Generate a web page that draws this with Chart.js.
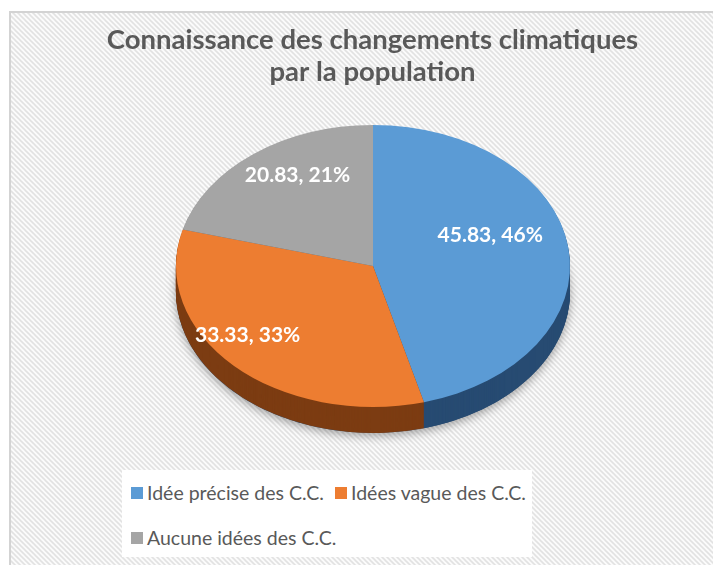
<!DOCTYPE html>
<html>
<head>
<meta charset="utf-8">
<script src="https://cdn.jsdelivr.net/npm/chart.js@4/dist/chart.umd.min.js"></script>
<style>
html, body { margin: 0; padding: 0; background: #fff; }
#wrap { position: relative; width: 713px; height: 565px; }
#legend { position: absolute; left: 122px; top: 470px; width: 410px; height: 87px; background: #fff;
  font-family: Lato, sans-serif; font-size: 19.5px; color: #595959; }
.item { position: absolute; white-space: nowrap; line-height: 22px; height: 22px; }
.sw { position: absolute; left: 0; top: 5px; width: 12px; height: 12px; }
.txt { position: absolute; left: 16px; top: 0; }
</style>
</head>
<body>
<div id="wrap">
  <canvas id="pie" width="713" height="565"></canvas>
  <div id="legend"></div>
</div>
<script>
// --- data ---
const labels = ['Idée précise des C.C.', 'Idées vague des C.C.', 'Aucune idées des C.C.'];
const values = [45.83, 33.33, 20.83];
const titleLines = ['Connaissance des changements climatiques', 'par la population'];

// --- look ---
const topColors = ['#5B9BD5', '#ED7D31', '#A5A5A5'];
const sideColors = ['#274b72', '#7c3c12', '#5f5f5f'];
const labelRadius = [0.6, 0.9, 0.63];   // where each value label sits along the slice
const PIE = { cx: 373, cy: 266, rx: 197, ry: 141, depth: 26, lift: -20 };
const legendSpots = [[9, 12], [213, 12], [9, 57]];

function hatchPattern(ctx) {
    const tile = document.createElement('canvas');
    tile.width = 5; tile.height = 5;
    const t = tile.getContext('2d');
    t.fillStyle = '#fbfbfb';
    t.fillRect(0, 0, 5, 5);
    t.strokeStyle = '#e2e2e2';
    t.lineWidth = 1.6;
    for (let k = -5; k <= 5; k += 5) {
        t.beginPath();
        t.moveTo(-1, -1 + k);
        t.lineTo(6, 6 + k);
        t.stroke();
    }
    return ctx.createPattern(tile, 'repeat');
}

// fake 3D: squash the library's arcs into an ellipse and stack darker copies underneath
const pie3d = {
    id: 'pie3d',
    beforeDraw(chart) {
        const ctx = chart.ctx;
        ctx.save();
        ctx.fillStyle = '#fff';
        ctx.fillRect(0, 0, chart.width, chart.height);
        ctx.fillStyle = hatchPattern(ctx);
        ctx.fillRect(10, 12, chart.width - 10, chart.height - 12);
        ctx.strokeStyle = '#d3d3d3';
        ctx.lineWidth = 2;
        ctx.strokeRect(10, 12, chart.width, chart.height);
        ctx.restore();
    },
    beforeDatasetsDraw(chart) {
        const ctx = chart.ctx;
        const arcs = chart.getDatasetMeta(0).data;
        const a0 = arcs[0];
        const r = a0.outerRadius;
        ctx.save();
        ctx.translate(PIE.cx, PIE.cy);
        ctx.scale(PIE.rx / r, PIE.ry / r);
        ctx.translate(-a0.x, -a0.y);
        const step = r / PIE.ry;

        // soft shadow below the disc
        ctx.save();
        ctx.shadowColor = 'rgba(0,0,0,0.35)';
        ctx.shadowBlur = 10;
        ctx.shadowOffsetY = 3;
        ctx.beginPath();
        ctx.arc(a0.x, a0.y + PIE.depth * step, r, 0, Math.PI * 2);
        ctx.fillStyle = sideColors[0];
        ctx.fill();
        ctx.restore();

        for (let d = PIE.depth; d >= 1; d--) {
            arcs.forEach((arc, i) => {
                ctx.beginPath();
                ctx.moveTo(arc.x, arc.y + d * step);
                ctx.arc(arc.x, arc.y + d * step, arc.outerRadius, arc.startAngle, arc.endAngle);
                ctx.closePath();
                ctx.fillStyle = sideColors[i];
                ctx.fill();
            });
        }
    },
    afterDatasetsDraw(chart) {
        const ctx = chart.ctx;
        ctx.restore();
        const arcs = chart.getDatasetMeta(0).data;
        const total = values.reduce((s, v) => s + v, 0);
        ctx.save();
        ctx.fillStyle = '#ffffff';
        ctx.font = 'bold 21px Lato';
        ctx.textAlign = 'center';
        ctx.textBaseline = 'middle';
        arcs.forEach((arc, i) => {
            const mid = (arc.startAngle + arc.endAngle) / 2;
            const f = labelRadius[i];
            const x = PIE.cx + Math.cos(mid) * PIE.rx * f;
            const y = PIE.cy + Math.sin(mid) * PIE.ry * f + PIE.lift;
            const txt = `${values[i].toFixed(2)}, ${Math.round(values[i] / total * 100)}%`;
            ctx.fillText(txt, x, y);
        });
        ctx.restore();
    }
};

new Chart(document.getElementById('pie'), {
    type: 'pie',
    data: {
        labels: labels,
        datasets: [{
            data: values,
            backgroundColor: topColors,
            borderWidth: 0,
            clip: false
        }]
    },
    options: {
        responsive: false,
        animation: false,
        layout: { padding: { left: 32, right: 0, top: 0, bottom: 0 } },
        plugins: {
            legend: { display: false },
            tooltip: { enabled: false },
            title: {
                display: true,
                text: titleLines,
                color: '#595959',
                font: { family: 'Lato', size: 27.5, weight: 'bold', lineHeight: 1.17 },
                padding: { top: 24, bottom: 10 }
            }
        }
    },
    plugins: [pie3d]
});

// legend built from the same labels/colours
const legend = document.getElementById('legend');
labels.forEach((lab, i) => {
    const item = document.createElement('div');
    item.className = 'item';
    item.style.left = legendSpots[i][0] + 'px';
    item.style.top = legendSpots[i][1] + 'px';
    item.innerHTML = `<span class="sw" style="background:${topColors[i]}"></span><span class="txt">${lab}</span>`;
    legend.appendChild(item);
});
</script>
</body>
</html>
